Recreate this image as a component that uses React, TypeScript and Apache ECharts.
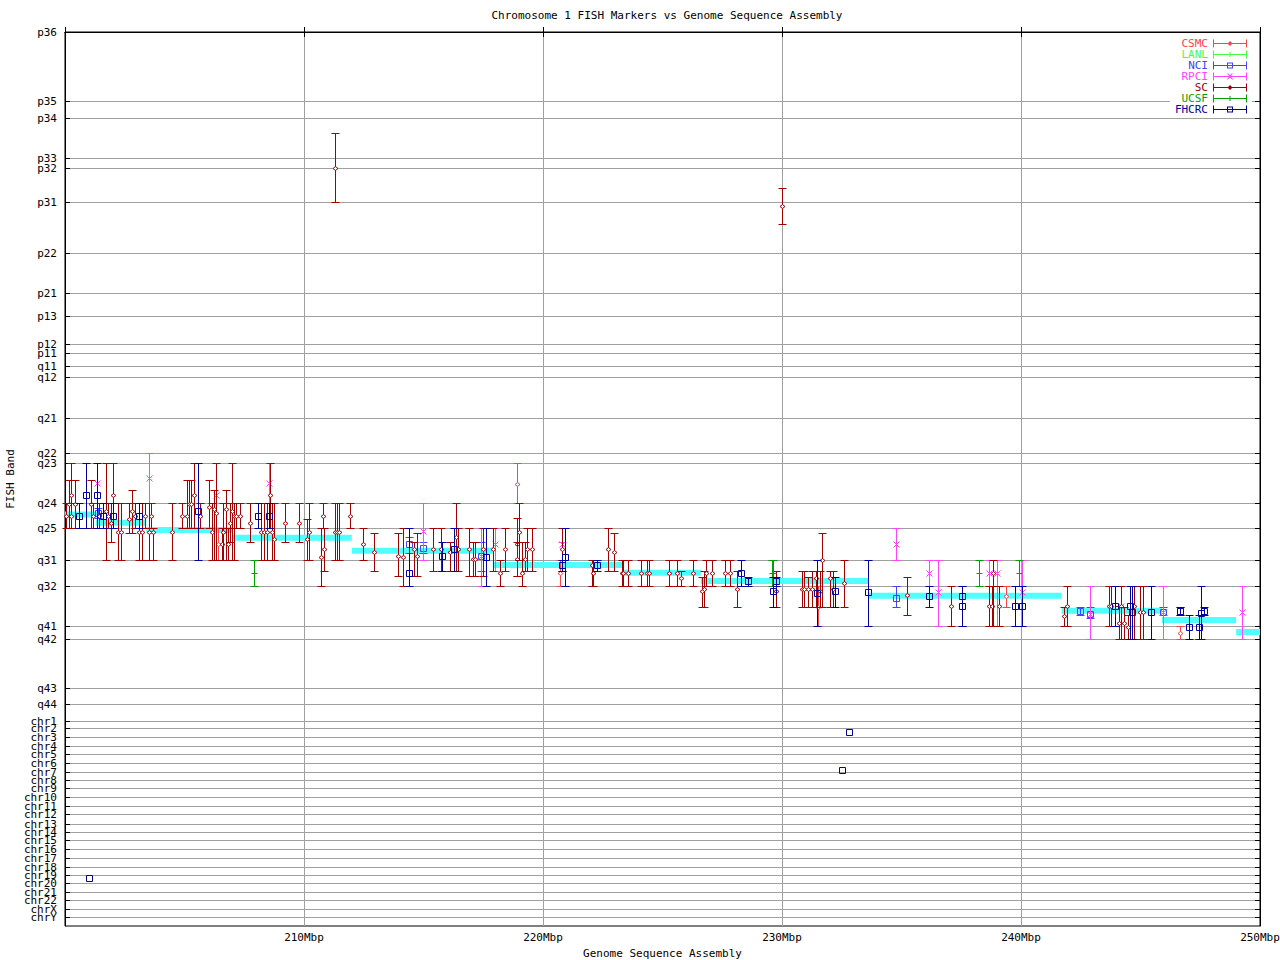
import React, { useEffect, useRef } from 'react';
import * as echarts from 'echarts';

const FONT = "'DejaVu Sans Mono', monospace";

const bandLabels = ['p36','p35','p34','p33','p32','p31','p22','p21','p13','p12','p11','q11','q12','q21','q22','q23','q24','q25','q31','q32','q41','q42','q43','q44',
  'chr1','chr2','chr3','chr4','chr5','chr6','chr7','chr8','chr9','chr10','chr11','chr12','chr13','chr14','chr15','chr16','chr17','chr18','chr19','chr20','chr21','chr22','chrX','chrY'];
const bandPos = [0,69,86,126,136,170,221,261,284,312,321,334,345,386,421,431,471,496,528,554,594,607,656,672,
  689,696,705,714,722,731,740,748,756,765,774,782,792,800,808,817,826,835,843,851,860,868,877,885];
const yMax = 894;
const xMin = 200, xMax = 250, xStep = 10;

// assembly band placement: [startMbp, endMbp, bandPosition]
const assembly = [
  [200.0,201.4,482.5],[201.3,203.4,490.7],[203.4,207.0,498],[207.0,212.0,505.7],[212.0,217.9,518.7],[217.9,223.4,533],
  [223.4,226.6,540.7],[226.6,233.6,549],[233.6,241.7,563.7],[241.7,245.9,578.7],[245.9,249.0,588],[249.0,250.0,600],
];

// FISH markers: [Mbp, band position, low, high]
const csmc = [[206.40,512,496,528],[218.92,452,431,471],[220.71,541,528,554],[231.52,575,554,594],[239.37,564,554,575],[246.65,601,594,607]];
const lanl: number[][] = [];
const nci = [[201.40,481,476,486],[214.41,512,505,521],[214.99,516,510,521],[217.41,524,510,539],[234.75,566,554,575],[242.45,579,575,583],[242.89,582,575,586],[245.93,580,575,583],[246.65,579,575,583]];
const rpci = [[201.35,451,451,451],[203.53,446,421,471],[206.32,463,431,496],[208.55,451,431,471],[214.99,499,471,528],[217.41,524,496,554],[218.00,512,496,539],[220.78,512,510,528],[234.75,512,496,528],[236.16,541,528,554],[236.54,560,528,594],[238.67,541,528,594],[239.00,541,528,594],[240.06,560,528,594],[242.89,582,554,607],[244.19,574,554,607],[245.93,580,554,607],[249.26,580,554,607]];
const sc = [
 [200.04,484,471,496],[200.18,472,448,496],[200.26,463,431,496],[200.26,484,471,496],[200.43,472,448,496],
 [201.10,472,448,496],[201.19,484,471,496],[201.44,484,471,496],[201.70,479,431,528],[201.81,484,471,496],
 [201.94,491,471,510],[202.02,463,431,496],[202.20,500,471,528],[202.34,500,471,528],[202.69,487,471,501],
 [202.82,479,458,501],[202.93,484,471,496],[203.11,500,471,528],[203.21,500,471,528],[203.36,484,471,496],
 [203.53,500,471,528],[203.61,484,471,496],[203.70,500,496,528],[204.49,500,471,528],[204.91,484,471,496],
 [205.12,484,448,496],[205.20,472,448,496],[205.28,472,448,496],[205.41,463,431,496],[205.65,484,471,496],
 [206.04,475,448,496],[206.16,500,471,528],[206.25,477,458,528],[206.30,481,431,528],[206.55,512,496,528],
 [206.62,500,471,528],[206.75,477,458,528],[206.83,512,496,528],[206.92,491,471,510],[207.00,479,431,528],
 [207.06,484,471,528],[207.14,484,471,496],[207.34,484,471,496],[207.75,491,471,510],[208.21,500,471,528],
 [208.33,500,471,528],[208.44,500,471,528],[208.59,463,431,496],[208.67,500,471,528],[208.76,507,471,528],
 [209.22,491,471,510],[209.80,491,471,510],[210.14,507,487,528],[210.22,500,471,528],[210.70,525,496,554],
 [210.78,484,471,496],[210.82,517,496,539],[211.28,500,471,528],[211.37,500,471,528],[211.45,500,471,528],
 [211.30,136,101,170],[211.94,484,471,496],
 [212.48,512,496,528],[212.94,520,501,539],[213.95,524,501,544],[214.16,525,496,554],[214.60,517,510,544],
 [214.74,524,501,544],[215.41,517,496,539],[215.73,517,496,539],[216.11,520,510,539],[216.35,505,471,539],
 [216.46,517,496,539],[216.92,517,496,544],[217.06,527,510,544],[217.15,527,510,544],[217.50,517,496,544],
 [217.92,517,496,539],[218.21,541,528,554],[218.42,517,496,539],[218.90,512,486,544],[218.90,527,510,544],
 [219.00,500,471,528],[219.13,541,510,554],[219.26,527,510,539],[219.34,517,496,539],[219.55,517,496,539],
 [220.80,517,496,539],[222.04,533,528,554],[222.10,541,528,554],[222.73,517,496,539],[222.98,520,501,539],
 [223.29,541,528,554],[223.33,541,528,554],[223.57,541,528,554],
 [224.09,541,528,554],[224.34,541,528,554],[224.42,541,528,554],[225.28,541,528,554],[225.62,541,528,554],
 [225.79,546,539,554],[226.26,541,528,554],[226.64,559,545,575],[226.74,557,539,575],[226.82,541,528,554],
 [227.06,541,528,554],[227.63,541,528,554],[227.81,541,528,554],[228.13,557,539,575],[229.73,559,539,575],
 [230.00,174,156,192],
 [230.84,557,539,575],[230.93,557,539,575],[231.09,557,545,575],[231.27,557,539,575],[231.42,546,539,575],
 [231.59,559,539,575],[231.69,528,501,575],[232.01,546,539,575],[232.15,557,539,575],[232.61,551,528,575],
 [235.24,563,545,583],[237.08,574,554,594],[238.67,574,554,594],[238.77,574,554,594],[238.84,541,528,594],
 [239.09,574,554,594],[241.78,584,575,594],[241.92,574,554,594],[243.70,574,554,594],[243.76,574,554,594],
 [244.08,591,574,607],[244.19,574,554,607],[244.33,591,575,607],[244.48,595,583,607],[244.71,574,554,607],
 [244.97,580,554,607],[245.11,580,554,607],
];
const ucsf = [[207.92,541,528,554],[229.58,541,528,554],[229.64,541,528,554],[238.26,541,528,554],[239.93,541,528,554]];
const fhcrc = [
 [200.60,484,471,496],[200.89,463,431,496],[201.35,463,431,496],[201.60,484,471,496],[202.02,484,471,496],
 [203.11,484,471,496],[205.58,479,431,528],[208.06,484,471,496],[208.55,484,471,496],
 [214.41,541,496,554],[215.79,524,510,539],[216.29,517,496,539],[217.60,525,496,554],[220.80,533,528,539],[220.93,525,496,554],[222.27,533,528,539],
 [228.30,541,528,554],[228.59,549,545,554],[229.64,559,545,575],[229.73,549,545,554],[231.48,561,528,594],[232.23,559,545,575],[233.61,560,528,594],
 [236.16,564,554,575],[237.54,564,554,594],[237.54,574,554,594],[239.76,574,554,594],[240.06,574,554,594],
 [243.95,574,554,594],[244.54,574,554,607],[244.64,580,554,607],[245.44,580,554,607],[246.65,579,575,583],[247.03,595,583,607],[247.45,595,583,607],[247.53,581,554,607],[247.66,579,575,583],
 [201.00,846,846,846],[232.51,738,738,738],[232.80,700,700,700],
];

const sourceNames = ['CSMC','LANL','NCI','RPCI','SC','UCSF','FHCRC'];
const sourceColors = ['#ff4444','#44ff44','#4444ff','#ff44ff','#a00000','#00a000','#0000a0'];
const sourceMarkers = ['diamond','plus','square','cross','diamond','plus','square'];
const sourceData = [csmc, lanl, nci, rpci, sc, ucsf, fhcrc];

const barBase = 'M0 0h1v8h-1zM33 0h1v8h-1zM1 3.5h32v1h-32z';
const iconPaths: Record<string, string> = {
  diamond: 'path://' + barBase + 'M17 1.5l2.5 2.5l-2.5 2.5l-2.5-2.5z',
  plus: 'path://' + barBase + 'M16.5 1.5h1v5h-1z',
  square: 'path://' + barBase + 'M14 1h6v6h-6zM15 2v4h4v-4z',
  cross: 'path://' + barBase + 'M14 1h1.3l5 6h-1.3zM18.7 1h1.3l-5 6h-1.3z',
};

function errRender(marker: string, color: string) {
  return (params: any, api: any) => {
    const x = api.value(0), c = api.value(1), lo = api.value(2), hi = api.value(3);
    const pc = api.coord([x, c]);
    const pl = api.coord([x, lo]);
    const ph = api.coord([x, hi]);
    const X = Math.round(pc[0]) + 0.5;
    const Y = Math.round(pc[1]) + 0.5;
    const yl = Math.round(pl[1]) + 0.5;
    const yh = Math.round(ph[1]) + 0.5;
    const st = { stroke: color, lineWidth: 1, fill: 'none' };
    const ch: any[] = [];
    if (Math.abs(yl - yh) > 0.5) {
      ch.push({ type: 'line', shape: { x1: X, y1: yl, x2: X, y2: yh }, style: st });
      ch.push({ type: 'line', shape: { x1: X - 4, y1: yl, x2: X + 4, y2: yl }, style: st });
      ch.push({ type: 'line', shape: { x1: X - 4, y1: yh, x2: X + 4, y2: yh }, style: st });
    }
    if (marker === 'diamond') {
      ch.push({ type: 'polygon', shape: { points: [[X - 2.5, Y], [X, Y - 2], [X + 2.5, Y], [X, Y + 2]] }, style: { stroke: color, lineWidth: 1, fill: '#fff' } });
    } else if (marker === 'square') {
      ch.push({ type: 'rect', shape: { x: X - 3, y: Y - 3, width: 6, height: 6 }, style: { stroke: color, lineWidth: 1, fill: 'none' } });
    } else if (marker === 'cross') {
      ch.push({ type: 'line', shape: { x1: X - 3, y1: Y - 3, x2: X + 3, y2: Y + 3 }, style: st });
      ch.push({ type: 'line', shape: { x1: X + 3, y1: Y - 3, x2: X - 3, y2: Y + 3 }, style: st });
    } else {
      ch.push({ type: 'line', shape: { x1: X - 3, y1: Y, x2: X + 3, y2: Y }, style: st });
    }
    return { type: 'group', children: ch };
  };
}

export default function App() {
  const ref = useRef<HTMLDivElement>(null);
  useEffect(() => {
    if (!ref.current) return;
    const chart = echarts.init(ref.current, undefined, { renderer: 'svg' });
    const labelOf = (v: number) => {
      const i = bandPos.indexOf(v);
      return i >= 0 ? bandLabels[i] : '';
    };
    const option: any = {
      animation: false,
      backgroundColor: '#fff',
      color: sourceColors,
      title: {
        text: 'Chromosome 1 FISH Markers vs Genome Sequence Assembly',
        left: 662, top: 5, textAlign: 'center',
        textStyle: { fontFamily: FONT, fontSize: 11, fontWeight: 'normal', color: '#000' },
      },
      legend: {
        orient: 'vertical', right: 28, top: 36, align: 'right',
        itemWidth: 34, itemHeight: 8, itemGap: 0, padding: [2, 5],
        backgroundColor: '#fff', selectedMode: false,
        textStyle: { fontFamily: FONT, fontSize: 11, lineHeight: 10.8 },
        data: sourceNames.map((n, i) => ({ name: n, icon: iconPaths[sourceMarkers[i]], textStyle: { color: sourceColors[i] } })),
      },
      grid: { left: 65, top: 32, width: 1195, height: 894, show: true, borderColor: '#000', borderWidth: 1, backgroundColor: 'transparent', containLabel: false, outerBoundsMode: 'none' },
      xAxis: [
        {
          type: 'value', min: xMin, max: xMax, interval: xStep, position: 'bottom',
          name: 'Genome Sequence Assembly', nameLocation: 'middle', nameGap: 22,
          nameTextStyle: { fontFamily: FONT, fontSize: 11, color: '#000' },
          axisLine: { show: true, lineStyle: { color: '#000' } },
          axisTick: { show: true, inside: true, length: 5, lineStyle: { color: '#000' } },
          axisLabel: { fontFamily: FONT, fontSize: 11, color: '#000', margin: 6, formatter: (v: number) => (v === xMin ? '' : v + 'Mbp') },
          splitLine: { show: true, lineStyle: { color: '#a0a0a0', width: 1 } },
        },
        {
          type: 'value', min: xMin, max: xMax, interval: xStep, position: 'top',
          axisLine: { show: true, lineStyle: { color: '#000' } },
          axisTick: { show: true, inside: true, length: 5, lineStyle: { color: '#000' } },
          axisLabel: { show: false }, splitLine: { show: false },
        },
      ],
      yAxis: [
        {
          type: 'value', min: 0, max: yMax, inverse: true, position: 'left',
          name: 'FISH Band', nameLocation: 'middle', nameGap: 49, nameRotate: 90, nameMoveOverlap: false,
          nameTextStyle: { fontFamily: FONT, fontSize: 11, color: '#000' },
          axisLine: { show: true, lineStyle: { color: '#000' } },
          axisTick: { show: true, inside: true, length: 5, customValues: bandPos, lineStyle: { color: '#000' } },
          axisLabel: { fontFamily: FONT, fontSize: 11, lineHeight: 6, color: '#000', margin: 8, customValues: [...bandPos, yMax], formatter: labelOf, showMinLabel: true, hideOverlap: false },
          splitLine: { show: true, lineStyle: { color: '#a0a0a0', width: 1 } },
        },
        {
          type: 'value', min: 0, max: yMax, inverse: true, position: 'right',
          axisLine: { show: true, lineStyle: { color: '#000' } },
          axisTick: { show: true, inside: true, length: 5, customValues: bandPos, lineStyle: { color: '#000' } },
          axisLabel: { show: false }, splitLine: { show: false },
        },
      ],
      series: [
        {
          type: 'custom', name: 'assembly', silent: true, xAxisIndex: 0, yAxisIndex: 0,
          data: assembly,
          renderItem: (params: any, api: any) => {
            const p1 = api.coord([api.value(0), api.value(2)]);
            const p2 = api.coord([api.value(1), api.value(2)]);
            return { type: 'rect', shape: { x: p1[0], y: p1[1] - 3, width: p2[0] - p1[0], height: 6 }, style: { fill: '#50ffff' } };
          },
        },
        ...sourceNames.map((n, i) => ({
          type: 'custom', name: n, silent: true, xAxisIndex: 0, yAxisIndex: 0,
          itemStyle: { color: sourceColors[i] },
          data: sourceData[i],
          renderItem: errRender(sourceMarkers[i], sourceColors[i]),
        })),
      ],
    };
    chart.setOption(option);
    return () => chart.dispose();
  }, []);
  return <div ref={ref} style={{ position: 'absolute', left: 0, top: 0, width: 1280, height: 960 }} />;
}
